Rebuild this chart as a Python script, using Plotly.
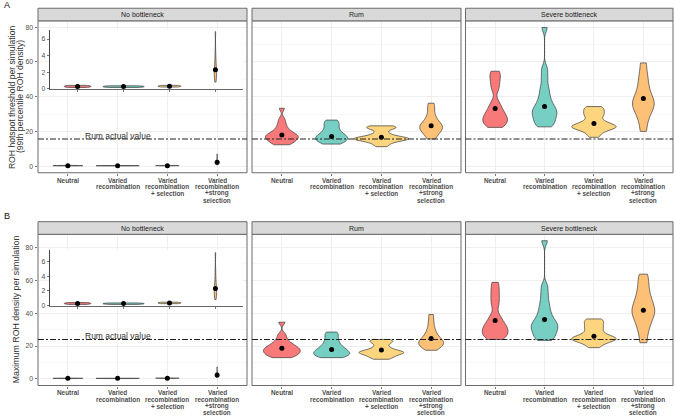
import plotly.graph_objects as go

# ---------------- data ----------------
categories = ["Neutral", "Varied recombination", "Varied recombination + selection",
              "Varied recombination +strong selection"]
tick_labels = ["Neutral", "Varied<br>recombination", "Varied<br>recombination<br>+ selection",
               "Varied<br>recombination<br>+strong<br>selection"]
facets = ["No bottleneck", "Rum", "Severe bottleneck"]

# Panel A: ROH hotspot threshold per simulation (simulated values per scenario)
a_nobott = [
    [0.15, 0.2, 0.25, 0.3, 0.35, 0.4],
    [0.15, 0.2, 0.25, 0.3, 0.35],
    [0.2, 0.25, 0.3, 0.35, 0.4],
    [0.8, 1.2, 1.5, 1.8, 2.0, 2.2, 2.5, 3.0, 3.5, 4.5, 6.9],
]
a_rum = [
    [12.3, 13.0, 13.8, 14.5, 15.2, 15.8, 16.3, 16.8, 17.3, 17.8, 18.3, 19.0, 19.8, 21.0, 22.5, 24.5, 27.0, 33.3],
    [12.7, 13.3, 14.0, 14.6, 15.2, 15.8, 16.3, 16.8, 17.3, 17.9, 18.6, 19.5, 20.5, 21.8, 23.0, 24.3, 25.5, 26.5],
    [11.2, 12.5, 13.6, 14.3, 14.8, 15.2, 15.5, 15.7, 15.9, 16.1, 16.4, 16.8, 17.4, 18.3, 19.5,
     21.3, 21.8, 22.3, 22.8, 23.2],
    [15.6, 17.5, 19.0, 20.0, 21.0, 21.8, 22.5, 23.2, 24.0, 25.0, 26.3, 28.0, 30.5, 33.5, 36.2],
]
a_severe = [
    [22.3, 23.5, 24.5, 25.5, 26.5, 27.5, 28.5, 29.5, 31.0, 32.5, 34.5, 37.0, 44.0, 47.0, 50.0, 52.5, 54.6],
    [22.6, 24.0, 25.5, 27.0, 28.5, 30.0, 31.0, 32.0, 33.5, 35.0, 37.0, 39.5, 42.5, 46.0, 51.0, 56.0, 79.8],
    [16.6, 18.5, 20.0, 21.0, 21.6, 22.0, 22.4, 22.8, 23.2, 23.7, 24.3, 25.0, 26.0, 27.5, 29.0,
     30.0, 31.0, 32.3, 33.3, 34.3],
    [20.0, 25.0, 28.5, 31.0, 33.0, 34.5, 36.0, 37.5, 39.0, 41.0, 43.5, 46.5, 50.0, 54.0, 59.4],
]
a_means = [[0.28, 0.27, 0.3, 2.3], [17.9, 17.1, 16.6, 23.2], [33.1, 34.3, 24.6, 38.9]]

# Panel B: maximum ROH density per simulation
b_nobott = [
    [0.15, 0.2, 0.25, 0.3, 0.35, 0.4],
    [0.15, 0.2, 0.25, 0.3, 0.35],
    [0.25, 0.3, 0.35, 0.4, 0.45],
    [0.8, 1.2, 1.5, 1.8, 2.0, 2.3, 2.6, 3.1, 3.7, 4.8, 7.2],
]
b_rum = [
    [12.9, 13.6, 14.4, 15.1, 15.8, 16.4, 17.0, 17.6, 18.2, 18.8, 19.5, 20.3, 21.3, 22.5, 24.5, 27.0, 34.5],
    [12.9, 13.5, 14.1, 14.7, 15.3, 15.9, 16.5, 17.1, 17.8, 18.6, 19.5, 20.6, 22.0, 23.5, 25.2, 27.0, 28.5],
    [11.9, 12.8, 13.6, 14.3, 14.9, 15.4, 15.8, 16.1, 16.4, 16.8, 17.3, 18.0, 19.0, 20.3, 21.8,
     22.6, 23.3, 24.0],
    [17.4, 18.8, 19.8, 20.6, 21.3, 22.0, 22.7, 23.5, 24.4, 25.5, 27.0, 29.0, 31.5, 35.0, 39.2],
]
b_severe = [
    [24.0, 25.2, 26.3, 27.4, 28.5, 29.6, 30.7, 31.8, 33.0, 34.5, 36.5, 39.0, 44.5, 48.0, 51.5, 55.0, 58.8],
    [23.4, 25.0, 26.5, 28.0, 29.5, 31.0, 32.0, 33.0, 34.5, 36.0, 38.0, 40.5, 43.5, 47.0, 51.5, 56.4, 84.2],
    [19.0, 20.8, 22.0, 22.8, 23.4, 23.9, 24.3, 24.7, 25.2, 25.8, 26.5, 27.5, 28.8, 30.3, 31.5,
     32.8, 34.2, 35.4, 36.5],
    [22.0, 27.5, 31.5, 34.5, 37.0, 39.0, 40.8, 42.5, 44.5, 46.5, 49.0, 52.0, 55.5, 59.5, 63.8],
]
b_means = [[0.28, 0.27, 0.33, 2.3], [18.6, 17.8, 17.6, 24.6], [35.5, 36.1, 26.0, 41.8]]

rum_actual = [15.6, 24.0]
y_ticks = [0, 20, 40, 60, 80]
inset_ticks = [0, 2, 4, 6]

# ---------------- style ----------------
W, H = 675, 419
FONT = "Liberation Sans, Arial, sans-serif"
fills = ["#F8797A", "#76CFC2", "#FDD57F", "#FDC077"]
outline = "#3a3a3a"
# per-violin display widths (category units) and kernel bandwidths
widths = {
    "A": [[0.6, 0.87, 0.47, 0.05], [0.66, 0.64, 1.1, 0.46], [0.5, 0.5, 0.9, 0.44]],
    "B": [[0.6, 0.87, 0.47, 0.05], [0.74, 0.72, 0.9, 0.5], [0.52, 0.54, 0.9, 0.46]],
}
inset_widths = [0.58, 0.9, 0.5, 0.05]
bws = [[0.06, 0.06, 0.06, 0.6], [1.5, 1.5, 1.05, 2.0], [2.5, 2.5, 1.4, 3.0]]

px_x = [(38, 247), (252, 461), (465.5, 673)]
px_y = {"A": (21, 174), "B": (236, 388.3)}
strip_y = {"A": (8.3, 21), "B": (223.3, 236)}
inset_px = {"A": ((50, 243), (30, 90)), "B": ((50, 243), (251.7, 308.3))}
yranges = {"A": [-3.8, 83.6], "B": [-4.1, 88.1]}
inset_ranges = {"A": [-0.08, 7.12], "B": [-0.08, 7.57]}
label_first, label_step = 7.5, 6.67

def fx(p):
    return p / W

def fy(p):
    return 1 - p / H

fig = go.Figure()
layout = dict(width=W, height=H, margin=dict(l=0, r=0, t=0, b=0), autosize=False,
              paper_bgcolor="white", plot_bgcolor="white", showlegend=False,
              violinmode="overlay", violingap=0, violingroupgap=0,
              font=dict(family=FONT, color="#333"))
shapes, annotations = [], []

rows = [("A", [a_nobott, a_rum, a_severe], a_means), ("B", [b_nobott, b_rum, b_severe], b_means)]

def add_violin(vals, ci, xa, ya, w, bw):
    fig.add_trace(go.Violin(
        x=[categories[ci]] * len(vals), y=vals, xaxis=xa, yaxis=ya,
        fillcolor=fills[ci], line=dict(color=outline, width=0.7), opacity=1,
        width=w, bandwidth=bw, spanmode="hard", points=False, scalemode="width",
        box_visible=False, meanline_visible=False, hoverinfo="skip", showlegend=False))

ax = 0
for r, (row, panels, means) in enumerate(rows):
    y0p, y1p = px_y[row]
    for c in range(3):
        ax += 1
        sx = "" if ax == 1 else str(ax)
        xa, ya = "x" + sx, "y" + sx
        for ci in range(4):
            add_violin(panels[c][ci], ci, xa, ya, widths[row][c][ci], bws[c][ci])
        fig.add_trace(go.Scatter(x=categories, y=means[c], xaxis=xa, yaxis=ya, mode="markers",
                                 marker=dict(color="black", size=5), hoverinfo="skip"))
        layout["xaxis" + sx] = dict(
            domain=[fx(px_x[c][0]), fx(px_x[c][1])], anchor=ya, type="category",
            categoryorder="array", categoryarray=categories, range=[-0.6, 3.6],
            tickmode="array", tickvals=categories, showticklabels=False,
            ticks="outside", ticklen=2.5, tickcolor="#555", tickwidth=0.8,
            showgrid=True, gridcolor="#EBEBEB", gridwidth=0.8, showline=False, zeroline=False,
            fixedrange=True)
        layout["yaxis" + sx] = dict(
            domain=[fy(y1p), fy(y0p)], anchor=xa, range=yranges[row],
            tickmode="array", tickvals=y_ticks, showticklabels=(c == 0),
            tickfont=dict(size=6.8, color="#4D4D4D", family=FONT),
            ticks="outside" if c == 0 else "", ticklen=2.5, tickcolor="#555", tickwidth=0.8,
            showgrid=True, gridcolor="#EBEBEB", gridwidth=0.8,
            minor=dict(tickmode="array", tickvals=[10, 30, 50, 70], showgrid=True,
                       gridcolor="#F4F4F4", gridwidth=0.6, ticks=""),
            zeroline=False, showline=False, fixedrange=True)
        # category labels, one text line at a time
        for ci in range(4):
            for k, line in enumerate(tick_labels[ci].split("<br>")):
                annotations.append(dict(
                    text=line, xref=xa, yref="paper", x=ci,
                    y=fy(y1p + label_first + k * label_step), showarrow=False,
                    xanchor="center", yanchor="middle",
                    font=dict(size=6.4, color="#4D4D4D", family=FONT, weight="bold")))
        # panel border
        shapes.append(dict(type="rect", xref="paper", yref="paper",
                           x0=fx(px_x[c][0]), x1=fx(px_x[c][1]), y0=fy(y1p), y1=fy(y0p),
                           line=dict(color="#6b6b6b", width=1), fillcolor="rgba(0,0,0,0)",
                           layer="above"))
        # strip
        s0, s1 = strip_y[row]
        shapes.append(dict(type="rect", xref="paper", yref="paper",
                           x0=fx(px_x[c][0]), x1=fx(px_x[c][1]), y0=fy(s1), y1=fy(s0),
                           line=dict(color="#6b6b6b", width=1), fillcolor="#D9D9D9",
                           layer="above"))
        annotations.append(dict(text=facets[c], xref="paper", yref="paper",
                                x=fx((px_x[c][0] + px_x[c][1]) / 2), y=fy((s0 + s1) / 2),
                                showarrow=False, xanchor="center", yanchor="middle",
                                font=dict(size=7, color="#1A1A1A", family=FONT)))
        # Rum actual value line
        shapes.append(dict(type="line", xref=xa + " domain", yref=ya, x0=0, x1=1,
                           y0=rum_actual[r], y1=rum_actual[r],
                           line=dict(color="#222", width=1.1, dash="6px,2px,2px,2px"),
                           layer="above"))
        if c == 0:
            annotations.append(dict(text="Rum actual value", xref=xa, yref=ya, x=1,
                                    y=rum_actual[r], yshift=3, showarrow=False,
                                    xanchor="center", yanchor="middle",
                                    font=dict(size=8.5, color="#333", family=FONT)))

# insets (zoom on No bottleneck panels)
for r, (row, panels, means) in enumerate(rows):
    ax += 1
    sx = str(ax)
    xa, ya = "x" + sx, "y" + sx
    (ix0, ix1), (iy0, iy1) = inset_px[row]
    for ci in range(4):
        add_violin(panels[0][ci], ci, xa, ya, inset_widths[ci], bws[0][ci])
    fig.add_trace(go.Scatter(x=categories, y=means[0], xaxis=xa, yaxis=ya, mode="markers",
                             marker=dict(color="black", size=5), hoverinfo="skip"))
    layout["xaxis" + sx] = dict(
        domain=[fx(ix0), fx(ix1)], anchor=ya, type="category",
        categoryorder="array", categoryarray=categories, range=[-0.6, 3.6],
        showticklabels=False, ticks="outside", ticklen=2, tickcolor="#555", tickwidth=0.8,
        showgrid=False, showline=True, linecolor="#555", linewidth=0.9, zeroline=False,
        fixedrange=True)
    layout["yaxis" + sx] = dict(
        domain=[fy(iy1), fy(iy0)], anchor=xa, range=inset_ranges[row],
        tickmode="array", tickvals=inset_ticks,
        tickfont=dict(size=6.8, color="#4D4D4D", family=FONT),
        ticks="outside", ticklen=2.5, tickcolor="#555", tickwidth=0.8,
        showgrid=False, showline=True, linecolor="#333", linewidth=0.9, zeroline=False,
        fixedrange=True)
    shapes.append(dict(type="rect", xref=xa + " domain", yref=ya + " domain",
                       x0=0, x1=1, y0=0, y1=1, fillcolor="white",
                       line=dict(width=0), layer="below"))

# axis titles and panel letters
annotations += [
    dict(text="ROH hotspot threshold per simulation", xref="paper", yref="paper",
         x=fx(12.3), y=fy(97.5), textangle=-90, showarrow=False, xanchor="center",
         yanchor="middle", font=dict(size=8.6, color="#333", family=FONT)),
    dict(text="(99th percentile ROH density)", xref="paper", yref="paper",
         x=fx(20.3), y=fy(97.5), textangle=-90, showarrow=False, xanchor="center",
         yanchor="middle", font=dict(size=8.6, color="#333", family=FONT)),
    dict(text="Maximum ROH density per simulation", xref="paper", yref="paper",
         x=fx(15.5), y=fy(312), textangle=-90, showarrow=False, xanchor="center",
         yanchor="middle", font=dict(size=8.8, color="#333", family=FONT)),
    dict(text="A", xref="paper", yref="paper", x=fx(1.5), y=fy(5), showarrow=False,
         xanchor="left", yanchor="middle", font=dict(size=9, color="#111", family=FONT)),
    dict(text="B", xref="paper", yref="paper", x=fx(1.5), y=fy(218), showarrow=False,
         xanchor="left", yanchor="middle", font=dict(size=9, color="#111", family=FONT)),
]

layout["shapes"] = shapes
layout["annotations"] = annotations
fig.update_layout(**layout)
fig.write_html("out.html", config={"displayModeBar": False, "staticPlot": True},
               post_script="document.body.style.margin='0px';document.body.style.overflow='hidden';")
